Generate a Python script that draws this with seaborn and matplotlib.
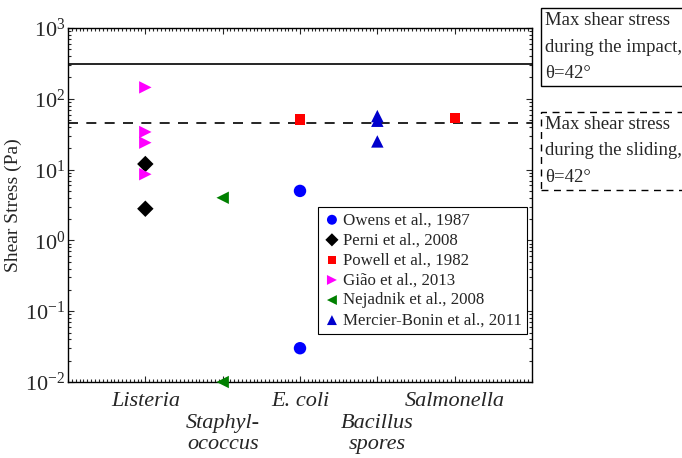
import numpy as np
import pandas as pd
import matplotlib
matplotlib.use("Agg")
import matplotlib.pyplot as plt
import seaborn as sns
from matplotlib.ticker import LogLocator, LogFormatterMathtext, FixedLocator, MultipleLocator, NullFormatter

categories = ["Listeria", "Staphyl-\nococcus", "E. coli", "Bacillus\nspores", "Salmonella"]
tick_labels = ["Listeria", "\nStaphyl-\nococcus", "E. coli", "\nBacillus\nspores", "Salmonella"]

studies = ["Owens et al., 1987", "Perni et al., 2008", "Powell et al., 1982",
           "Gião et al., 2013", "Nejadnik et al., 2008", "Mercier-Bonin et al., 2011"]

owens_cat = ["E. coli", "E. coli"]
owens_val = [5.0, 0.03]
perni_cat = ["Listeria", "Listeria"]
perni_val = [12.0, 2.8]
powell_cat = ["E. coli", "Salmonella"]
powell_val = [51.0, 54.0]
giao_cat = ["Listeria", "Listeria", "Listeria", "Listeria"]
giao_val = [145.0, 34.0, 24.0, 8.6]
nejadnik_cat = ["Staphyl-\nococcus", "Staphyl-\nococcus"]
nejadnik_val = [4.0, 0.01]
mercier_cat = ["Bacillus\nspores", "Bacillus\nspores", "Bacillus\nspores"]
mercier_val = [57.0, 49.0, 25.0]

impact_stress = 310.0
sliding_stress = 46.0

colors = {studies[0]: "#0000ff", studies[1]: "#000000", studies[2]: "#ff0000",
          studies[3]: "#ff00ff", studies[4]: "#008000", studies[5]: "#0000cd"}
markers = {studies[0]: "o", studies[1]: "D", studies[2]: "s",
           studies[3]: ">", studies[4]: "<", studies[5]: "^"}

rows = []
for name, cats, vals in zip(studies,
                            [owens_cat, perni_cat, powell_cat, giao_cat, nejadnik_cat, mercier_cat],
                            [owens_val, perni_val, powell_val, giao_val, nejadnik_val, mercier_val]):
    for c, v in zip(cats, vals):
        rows.append({"pos": categories.index(c) + 1, "stress": v, "study": name})
df = pd.DataFrame(rows)

sns.set_style("ticks")
plt.rcParams["font.family"] = ["Liberation Serif", "DejaVu Serif"]
plt.rcParams["mathtext.fontset"] = "stix"

fig = plt.figure(figsize=(6.82, 4.58), dpi=100)
ax = fig.add_axes([68 / 682, 1 - 382 / 458, 464 / 682, 354 / 458])

sizes = {studies[0]: 80, studies[1]: 70, studies[2]: 55, studies[3]: 80, studies[4]: 80, studies[5]: 80}
for name in studies:
    sub = df[df["study"] == name]
    sns.scatterplot(data=sub, x="pos", y="stress", ax=ax, color=colors[name],
                    marker=markers[name], s=sizes[name], edgecolor="none",
                    label=name, clip_on=False, zorder=5)

ax.axhline(impact_stress, color="black", lw=1.2, zorder=2)
ax.axhline(sliding_stress, color="black", lw=1.2, ls=(0, (6, 5)), zorder=2)

ax.set_yscale("log")
ax.set_ylim(1e-2, 1e3)
ax.set_xlim(0, 6)
ax.yaxis.set_major_locator(LogLocator(base=10, numticks=10))
ax.yaxis.set_major_formatter(LogFormatterMathtext())
ax.yaxis.set_minor_locator(LogLocator(base=10, subs=np.arange(2, 10), numticks=10))
ax.yaxis.set_minor_formatter(NullFormatter())
ax.xaxis.set_major_locator(FixedLocator([1, 2, 3, 4, 5]))
ax.set_xticklabels(tick_labels, fontstyle="italic", fontsize=16, linespacing=1.2)
ax.xaxis.set_minor_locator(MultipleLocator(0.05))
ax.tick_params(axis="y", labelsize=16, pad=2)
ax.tick_params(axis="x", pad=7)
ax.tick_params(which="both", direction="in", top=True, right=True, width=0.8)
ax.tick_params(which="major", length=4)
ax.tick_params(which="minor", length=2)
ax.set_xlabel("")
ax.set_ylabel("Shear Stress (Pa)", fontsize=14, labelpad=2)
for sp in ax.spines.values():
    sp.set_linewidth(1.0)
    sp.set_color("black")

leg = ax.legend(loc="upper right", bbox_to_anchor=(0.989, 0.494), fontsize=12.2,
                fancybox=False, edgecolor="black", framealpha=1, markerscale=0.8,
                handletextpad=0.1, handlelength=1.1, borderpad=0.3, labelspacing=0.24,
                borderaxespad=0)
leg.get_frame().set_linewidth(0.8)

fig.text(545 / 682, 1 - 47 / 458, "Max shear stress\nduring the impact,\nθ=42°", fontsize=13.5,
         va="center", ha="left", linespacing=1.75,
         bbox=dict(boxstyle="square,pad=0.2", fc="white", ec="black", lw=1.0))
fig.text(545 / 682, 1 - 151 / 458, "Max shear stress\nduring the sliding,\nθ=42°", fontsize=13.5,
         va="center", ha="left", linespacing=1.75,
         bbox=dict(boxstyle="square,pad=0.2", fc="white", ec="black", lw=1.0, ls=(0, (5, 4))))

fig.savefig("out.png", dpi=100)
